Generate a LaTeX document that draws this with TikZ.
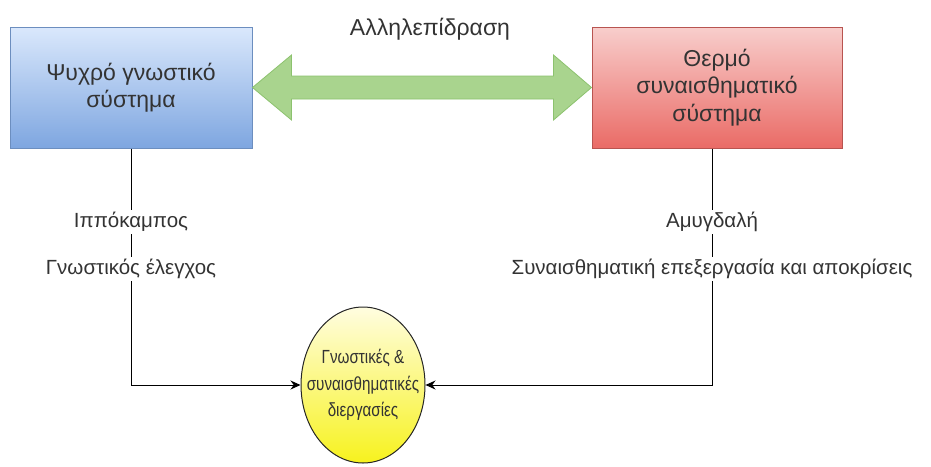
\documentclass[tikz,border=0pt]{standalone}
\usepackage{fontspec}
\setmainfont{Liberation Sans}
\newfontfamily\narrowsans{Liberation Sans}[FakeStretch=0.8]
\usetikzlibrary{arrows.meta,calc,shapes.geometric}
\definecolor{blueTop}{HTML}{DAE8FC}
\definecolor{blueBot}{HTML}{7EA6E0}
\definecolor{blueLine}{HTML}{6C8EBF}
\definecolor{redTop}{HTML}{F8CECC}
\definecolor{redBot}{HTML}{EA6B66}
\definecolor{redLine}{HTML}{B85450}
\definecolor{greenFill}{HTML}{A9D48E}
\definecolor{greenLine}{HTML}{8CC26E}
\definecolor{yelTop}{HTML}{FFFDE0}
\definecolor{yelBot}{HTML}{F7F21E}
\definecolor{txt}{HTML}{333333}
\tikzset{
  every node/.style={font=\fontsize{20.5}{27}\selectfont, text=txt},
  bigtext/.style={font=\fontsize{23}{27.5}\selectfont},
  sysbox/.style={bigtext, minimum width=242pt, minimum height=121pt, align=center, line width=1pt},
  tag/.style={fill=white, inner sep=2pt},
  link/.style={line width=1pt, -{Stealth[length=10pt,width=9pt]}},
}
\begin{document}
\begin{tikzpicture}[x=1pt,y=-1pt]
\useasboundingbox (0,0) rectangle (931,466);

% the two systems
\node[sysbox, draw=blueLine, top color=blueTop, bottom color=blueBot]
  (cold) at (131,87.5) {Ψυχρό γνωστικό\\σύστημα};
\node[sysbox, minimum width=250pt, draw=redLine, top color=redTop, bottom color=redBot]
  (hot) at (717,87.5) {Θερμό\\συναισθηματικό\\σύστημα};

% two-way interaction arrow
\draw[line width=0.8pt, draw=greenLine, fill=greenFill]
  (cold.east) -- ++(39,-32.5) -- ++(0,21) -- ($(hot.west)+(-38,-11.5)$)
  -- ++(0,-21) -- (hot.west) -- ++(-38,32.5) -- ++(0,-21)
  -- ($(cold.east)+(39,11.5)$) -- ++(0,21) -- cycle;
\node[bigtext] (inter) at (430,29) {Αλληλεπίδραση};

% shared processes
\node[ellipse, draw=black!85, line width=1pt, top color=yelTop, bottom color=yelBot,
      minimum width=124pt, minimum height=156pt, inner sep=0pt]
  (proc) at (363,385) {};
\node[align=center, font=\narrowsans\fontsize{19}{26.5}\selectfont] (proctext) at (proc.center)
  {Γνωστικές \&\\συναισθηματικές\\διεργασίες};

% connectors
\coordinate (hotout) at ($(hot.south)+(-5,0)$);
\draw[link] (cold.south) -- (cold.south |- proc.west) -- (proc.west);
\draw[link] (hotout) -- (hotout |- proc.east) -- (proc.east);

\node[tag] (hippo) at (131,222) {Ιππόκαμπος};
\node[tag] (cogc) at (131,269) {Γνωστικός έλεγχος};
\node[tag] (amyg) at (712,222) {Αμυγδαλή};
\node[tag] (emop) at (712,269) {Συναισθηματική επεξεργασία και αποκρίσεις};
\end{tikzpicture}
\end{document}
